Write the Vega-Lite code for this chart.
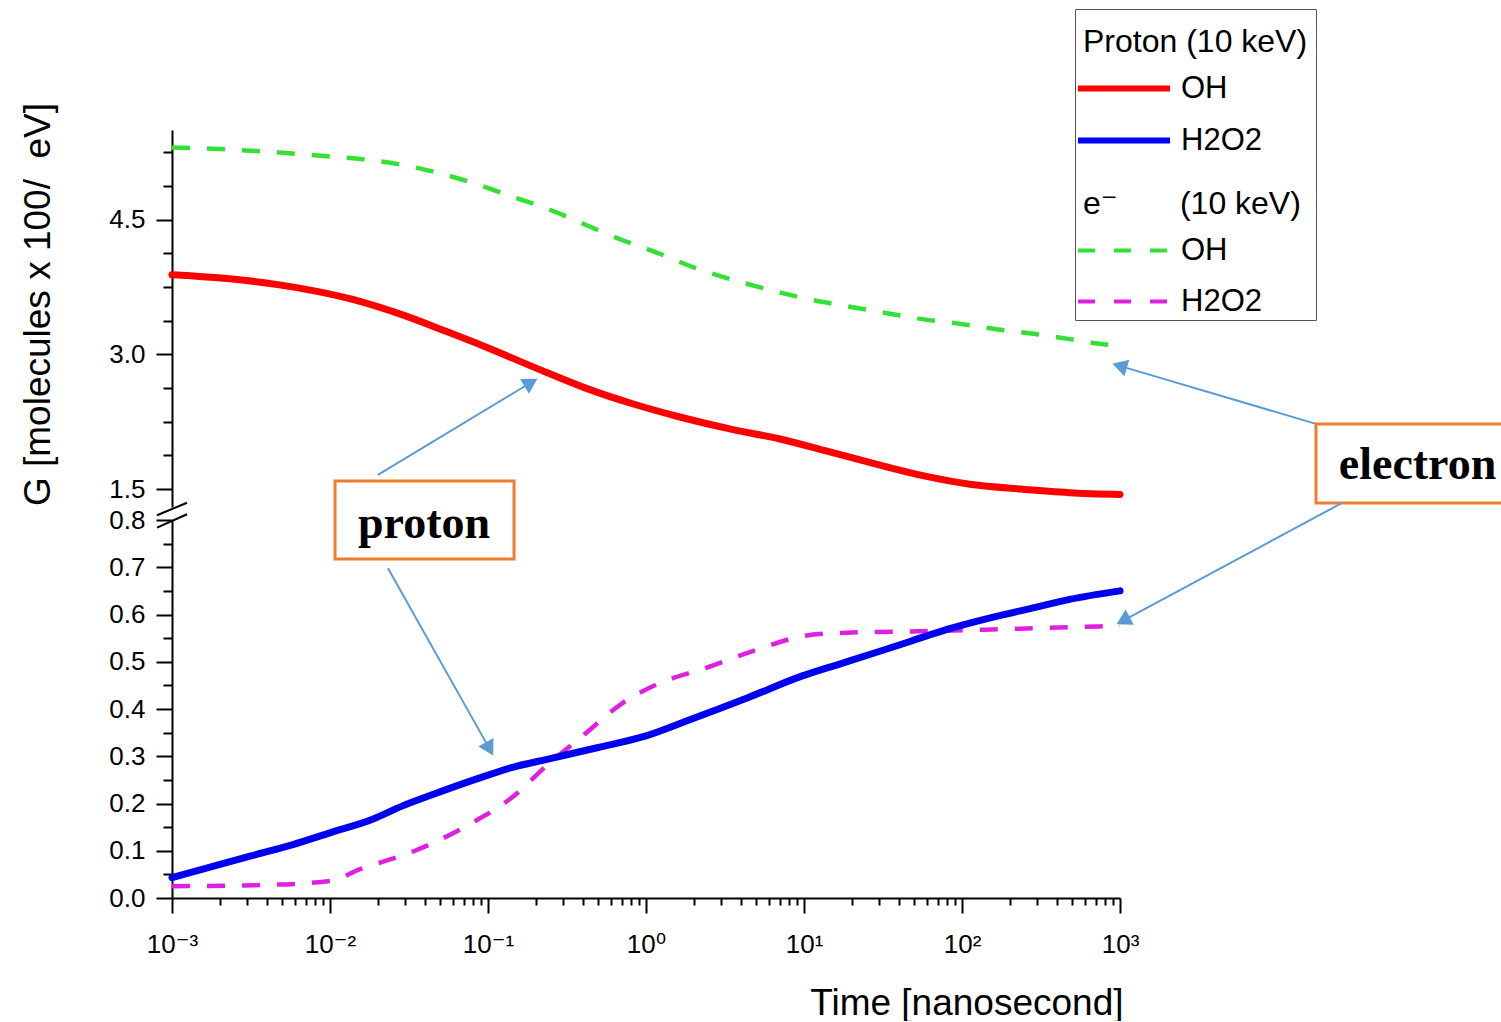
{
 "$schema": "https://vega.github.io/schema/vega-lite/v6.json",
 "padding": {"left": 18, "top": 8, "right": 0, "bottom": 0},
 "background": "white",
 "bounds": "flush",
 "spacing": 13,
 "datasets": {
  "g": [
   {"particle":"electron","species":"OH","t":0.001,"g":5.306},
   {"particle":"electron","species":"OH","t":0.00316,"g":5.27},
   {"particle":"electron","species":"OH","t":0.00912,"g":5.21},
   {"particle":"electron","species":"OH","t":0.017,"g":5.17},
   {"particle":"electron","species":"OH","t":0.0288,"g":5.11},
   {"particle":"electron","species":"OH","t":0.049,"g":5.02},
   {"particle":"electron","species":"OH","t":0.0832,"g":4.90},
   {"particle":"electron","species":"OH","t":0.141,"g":4.76},
   {"particle":"electron","species":"OH","t":0.24,"g":4.62},
   {"particle":"electron","species":"OH","t":0.407,"g":4.45},
   {"particle":"electron","species":"OH","t":0.692,"g":4.28},
   {"particle":"electron","species":"OH","t":1.17,"g":4.135},
   {"particle":"electron","species":"OH","t":2.0,"g":3.97},
   {"particle":"electron","species":"OH","t":3.39,"g":3.84},
   {"particle":"electron","species":"OH","t":5.75,"g":3.73},
   {"particle":"electron","species":"OH","t":9.77,"g":3.63},
   {"particle":"electron","species":"OH","t":18.2,"g":3.54},
   {"particle":"electron","species":"OH","t":30.9,"g":3.47},
   {"particle":"electron","species":"OH","t":57.5,"g":3.39},
   {"particle":"electron","species":"OH","t":97.7,"g":3.34},
   {"particle":"electron","species":"OH","t":166,"g":3.28},
   {"particle":"electron","species":"OH","t":282,"g":3.23},
   {"particle":"electron","species":"OH","t":479,"g":3.17},
   {"particle":"electron","species":"OH","t":813,"g":3.11},
   {"particle":"electron","species":"OH","t":1000,"g":3.095},
   {"particle":"proton","species":"OH","t":0.001,"g":3.887},
   {"particle":"proton","species":"OH","t":0.0024,"g":3.84},
   {"particle":"proton","species":"OH","t":0.00589,"g":3.75},
   {"particle":"proton","species":"OH","t":0.0141,"g":3.61},
   {"particle":"proton","species":"OH","t":0.0288,"g":3.44},
   {"particle":"proton","species":"OH","t":0.0537,"g":3.26},
   {"particle":"proton","species":"OH","t":0.0977,"g":3.08},
   {"particle":"proton","species":"OH","t":0.2,"g":2.85},
   {"particle":"proton","species":"OH","t":0.407,"g":2.63},
   {"particle":"proton","species":"OH","t":0.822,"g":2.45},
   {"particle":"proton","species":"OH","t":1.66,"g":2.30},
   {"particle":"proton","species":"OH","t":3.39,"g":2.17},
   {"particle":"proton","species":"OH","t":6.92,"g":2.06},
   {"particle":"proton","species":"OH","t":13.8,"g":1.925},
   {"particle":"proton","species":"OH","t":28.2,"g":1.78},
   {"particle":"proton","species":"OH","t":57.5,"g":1.646},
   {"particle":"proton","species":"OH","t":115,"g":1.55},
   {"particle":"proton","species":"OH","t":234,"g":1.50},
   {"particle":"proton","species":"OH","t":479,"g":1.46},
   {"particle":"proton","species":"OH","t":1000,"g":1.44},
   {"particle":"proton","species":"H2O2","t":0.001,"g":0.043},
   {"particle":"proton","species":"H2O2","t":0.00316,"g":0.089},
   {"particle":"proton","species":"H2O2","t":0.00589,"g":0.1135},
   {"particle":"proton","species":"H2O2","t":0.01,"g":0.138},
   {"particle":"proton","species":"H2O2","t":0.0186,"g":0.1665},
   {"particle":"proton","species":"H2O2","t":0.0288,"g":0.195},
   {"particle":"proton","species":"H2O2","t":0.0447,"g":0.219},
   {"particle":"proton","species":"H2O2","t":0.0832,"g":0.251},
   {"particle":"proton","species":"H2O2","t":0.141,"g":0.276},
   {"particle":"proton","species":"H2O2","t":0.24,"g":0.294},
   {"particle":"proton","species":"H2O2","t":0.49,"g":0.318},
   {"particle":"proton","species":"H2O2","t":1.0,"g":0.343},
   {"particle":"proton","species":"H2O2","t":1.82,"g":0.375},
   {"particle":"proton","species":"H2O2","t":2.82,"g":0.399},
   {"particle":"proton","species":"H2O2","t":4.41,"g":0.424},
   {"particle":"proton","species":"H2O2","t":9.77,"g":0.470},
   {"particle":"proton","species":"H2O2","t":16.6,"g":0.4946},
   {"particle":"proton","species":"H2O2","t":28.2,"g":0.519},
   {"particle":"proton","species":"H2O2","t":47.9,"g":0.544},
   {"particle":"proton","species":"H2O2","t":81.3,"g":0.569},
   {"particle":"proton","species":"H2O2","t":151,"g":0.593},
   {"particle":"proton","species":"H2O2","t":282,"g":0.614},
   {"particle":"proton","species":"H2O2","t":479,"g":0.632},
   {"particle":"proton","species":"H2O2","t":1000,"g":0.650},
   {"particle":"electron","species":"H2O2","t":0.001,"g":0.025},
   {"particle":"electron","species":"H2O2","t":0.0038,"g":0.0275},
   {"particle":"electron","species":"H2O2","t":0.01,"g":0.036},
   {"particle":"electron","species":"H2O2","t":0.0155,"g":0.061},
   {"particle":"electron","species":"H2O2","t":0.0339,"g":0.099},
   {"particle":"electron","species":"H2O2","t":0.0832,"g":0.163},
   {"particle":"electron","species":"H2O2","t":0.141,"g":0.212},
   {"particle":"electron","species":"H2O2","t":0.24,"g":0.283},
   {"particle":"electron","species":"H2O2","t":0.407,"g":0.346},
   {"particle":"electron","species":"H2O2","t":0.692,"g":0.41},
   {"particle":"electron","species":"H2O2","t":1.17,"g":0.452},
   {"particle":"electron","species":"H2O2","t":2.4,"g":0.487},
   {"particle":"electron","species":"H2O2","t":4.79,"g":0.523},
   {"particle":"electron","species":"H2O2","t":9.77,"g":0.554},
   {"particle":"electron","species":"H2O2","t":16.6,"g":0.561},
   {"particle":"electron","species":"H2O2","t":61.7,"g":0.565},
   {"particle":"electron","species":"H2O2","t":234,"g":0.570},
   {"particle":"electron","species":"H2O2","t":1000,"g":0.576}
  ]
 },
 "vconcat": [
  {
   "width": 948,
   "height": 377,
   "resolve": {"axis": {"y": "independent"}},
   "layer": [
    {
     "data": {"name": "g"},
     "transform": [{"filter": "datum.particle == 'electron' && datum.species == 'OH'"}],
     "mark": {"type": "line", "interpolate": "monotone", "strokeWidth": 4.5, "strokeDash": [18, 17]},
     "encoding": {
      "x": {"field": "t", "type": "quantitative", "scale": {"type": "log", "domain": [0.001, 1000], "nice": false}, "axis": null},
      "y": {"field": "g", "type": "quantitative", "scale": {"domain": [1.3, 5.5], "nice": false, "zero": false},
       "axis": {"orient": "left", "values": [1.5, 3, 4.5], "format": ".1f", "tickSize": 16, "labelPadding": 11, "labelFontSize": 26, "labelFlush": false, "labelOverlap": false,
        "title": "G [molecules x 100/\u00a0\u00a0eV]", "titleFontSize": 37, "titleX": -134, "titleY": 174, "titleAngle": -90, "titleAlign": "center", "titleBaseline": "middle"}},
      "stroke": {"field": "species", "type": "nominal",
       "scale": {"domain": ["OH", "H2O2"], "range": ["#33e033", "#e020e0"]},
       "legend": {"orient": "none", "legendX": 903, "legendY": 51,
        "title": "\u00a0e\u207b\u00a0\u00a0\u00a0\u00a0\u00a0\u00a0\u00a0(10 keV)", "titleFontSize": 32, "titleFont": "Liberation Sans, DejaVu Sans", "titleFontWeight": "normal", "titleColor": "black", "titlePadding": 14, "titleLimit": 1000,
        "labelFontSize": 31, "labelFont": "Liberation Sans", "labelColor": "black", "labelOffset": 67, "labelLimit": 0,
        "symbolType": "M-1.78,0H6.22", "symbolSize": 529, "symbolStrokeWidth": 4, "symbolDash": [17, 19],
        "rowPadding": 19, "padding": 8}}
     }
    },
    {
     "data": {"name": "g"},
     "transform": [{"filter": "datum.particle == 'proton' && datum.species == 'OH'"}],
     "mark": {"type": "line", "interpolate": "monotone", "strokeWidth": 7, "strokeCap": "round"},
     "encoding": {
      "x": {"field": "t", "type": "quantitative", "axis": null},
      "y": {"field": "g", "type": "quantitative",
       "axis": {"orient": "left", "values": [1.875, 2.25, 2.625, 3.375, 3.75, 4.125, 4.875, 5.25], "tickSize": 9, "labels": false, "domain": false, "title": null}},
      "color": {"field": "species", "type": "nominal",
       "scale": {"domain": ["OH", "H2O2", "b1", "b2", "b3"], "range": ["#ff0000", "#0000f0", "transparent", "transparent", "transparent"]},
       "legend": {"orient": "none", "legendX": 903, "legendY": -121,
        "title": ["\u00a0", "Proton (10 keV)"], "titleLineHeight": 10, "titleFontSize": 32, "titleFont": "Liberation Sans", "titleFontWeight": "normal", "titleColor": "black", "titlePadding": 14, "titleLimit": 1000,
        "labelFontSize": 31, "labelFont": "Liberation Sans", "labelColor": "black", "labelOffset": 67, "labelLimit": 0,
        "labelExpr": "indexof(['OH','H2O2'], datum.label) >= 0 ? datum.label : '\u00a0'",
        "symbolType": "M-1.78,0H6.22", "symbolSize": 529, "symbolStrokeWidth": 6,
        "rowPadding": 20, "padding": 8, "strokeColor": "#555555"}}
     }
    },
    {
     "data": {"values": [{}]},
     "mark": {"type": "rule", "color": "#5b9bd5", "strokeWidth": 2},
     "encoding": {
      "x": {"datum": 0.0201, "type": "quantitative", "axis": null}, "x2": {"datum": 0.187},
      "y": {"datum": 1.657, "type": "quantitative", "axis": null}, "y2": {"datum": 2.687}
     }
    },
    {
     "data": {"values": [{}]},
     "mark": {"type": "point", "shape": "triangle-up", "filled": true, "size": 300, "color": "#5b9bd5", "opacity": 1, "angle": 59},
     "encoding": {
      "x": {"datum": 0.187, "type": "quantitative", "axis": null},
      "y": {"datum": 2.687, "type": "quantitative", "axis": null}
     }
    },
    {
     "data": {"values": [{}]},
     "mark": {"type": "rule", "color": "#5b9bd5", "strokeWidth": 2},
     "encoding": {
      "x": {"datum": 17400, "type": "quantitative", "axis": null}, "x2": {"datum": 995},
      "y": {"datum": 2.226, "type": "quantitative", "axis": null}, "y2": {"datum": 2.872}
     }
    },
    {
     "data": {"values": [{}]},
     "mark": {"type": "point", "shape": "triangle-up", "filled": true, "size": 300, "color": "#5b9bd5", "opacity": 1, "angle": 286.5},
     "encoding": {
      "x": {"datum": 995, "type": "quantitative", "axis": null},
      "y": {"datum": 2.872, "type": "quantitative", "axis": null}
     }
    },
    {
     "data": {"values": [{}]},
     "mark": {"type": "rect", "fill": "white", "stroke": "#ed7d31", "strokeWidth": 3},
     "encoding": {
      "x": {"datum": 17400, "type": "quantitative", "axis": null}, "x2": {"datum": 270000},
      "y": {"datum": 1.345, "type": "quantitative", "axis": null}, "y2": {"datum": 2.226}
     }
    },
    {
     "data": {"values": [{}]},
     "mark": {"type": "text", "text": "electron", "font": "Liberation Serif", "fontWeight": "bold", "fontSize": 46, "align": "center", "baseline": "alphabetic", "fill": "black"},
     "encoding": {
      "x": {"datum": 76400, "type": "quantitative", "axis": null},
      "y": {"datum": 1.613, "type": "quantitative", "axis": null}
     }
    }
   ]
  },
  {
   "width": 948,
   "height": 378,
   "resolve": {"axis": {"y": "independent", "x": "independent"}},
   "layer": [
    {
     "data": {"name": "g"},
     "transform": [{"filter": "datum.particle == 'electron' && datum.species == 'H2O2'"}],
     "mark": {"type": "line", "interpolate": "monotone", "strokeWidth": 4.5, "strokeDash": [18, 17]},
     "encoding": {
      "x": {"field": "t", "type": "quantitative", "scale": {"type": "log", "domain": [0.001, 1000], "nice": false},
       "axis": {"orient": "bottom", "values": [0.002,0.003,0.004,0.005,0.006,0.007,0.008,0.009,0.02,0.03,0.04,0.05,0.06,0.07,0.08,0.09,0.2,0.3,0.4,0.5,0.6,0.7,0.8,0.9,2,3,4,5,6,7,8,9,20,30,40,50,60,70,80,90,200,300,400,500,600,700,800,900], "tickSize": 7, "labels": false, "domain": false, "title": null}},
      "y": {"field": "g", "type": "quantitative", "scale": {"domain": [0, 0.8], "nice": false, "zero": false},
       "axis": {"orient": "left", "values": [0.05,0.15,0.25,0.35,0.45,0.55,0.65,0.75], "tickSize": 9, "labels": false, "domain": false, "title": null}},
      "stroke": {"field": "species", "type": "nominal", "scale": {"domain": ["OH", "H2O2"], "range": ["#33e033", "#e020e0"]}}
     }
    },
    {
     "data": {"name": "g"},
     "transform": [{"filter": "datum.particle == 'proton' && datum.species == 'H2O2'"}],
     "mark": {"type": "line", "interpolate": "monotone", "strokeWidth": 7, "strokeCap": "round"},
     "encoding": {
      "x": {"field": "t", "type": "quantitative",
       "axis": {"orient": "bottom", "values": [0.001, 0.01, 0.1, 1, 10, 100, 1000],
        "labelExpr": "['10\u207b\u00b3','10\u207b\u00b2','10\u207b\u00b9','10\u2070','10\u00b9','10\u00b2','10\u00b3'][round(log(datum.value)/LN10)+3]",
        "tickSize": 15, "labelPadding": 18, "labelFontSize": 26, "labelFont": "Liberation Sans, DejaVu Sans", "labelFlush": false, "labelOverlap": false,
        "title": "Time [nanosecond]", "titleFontSize": 37, "titleX": 951, "titleY": 105, "titleAlign": "right", "titleBaseline": "middle"}},
      "y": {"field": "g", "type": "quantitative",
       "axis": {"orient": "left", "values": [0, 0.1, 0.2, 0.3, 0.4, 0.5, 0.6, 0.7, 0.8], "format": ".1f", "tickSize": 16, "labelPadding": 11, "labelFontSize": 26, "labelFlush": false, "labelOverlap": false, "title": null}},
      "color": {"field": "species", "type": "nominal",
       "scale": {"domain": ["OH", "H2O2", "b1", "b2", "b3"], "range": ["#ff0000", "#0000f0", "transparent", "transparent", "transparent"]}}
     }
    },
    {
     "data": {"values": [{}]},
     "mark": {"type": "rule", "color": "black", "strokeWidth": 2},
     "encoding": {
      "x": {"datum": 0.000804, "type": "quantitative", "axis": null}, "x2": {"datum": 0.001245},
      "y": {"datum": 0.810, "type": "quantitative", "axis": null}, "y2": {"datum": 0.8366}
     }
    },
    {
     "data": {"values": [{}]},
     "mark": {"type": "rule", "color": "black", "strokeWidth": 2},
     "encoding": {
      "x": {"datum": 0.000804, "type": "quantitative", "axis": null}, "x2": {"datum": 0.001245},
      "y": {"datum": 0.7838, "type": "quantitative", "axis": null}, "y2": {"datum": 0.8122}
     }
    },
    {
     "data": {"values": [{}]},
     "mark": {"type": "rule", "color": "#5b9bd5", "strokeWidth": 2},
     "encoding": {
      "x": {"datum": 0.02328, "type": "quantitative", "axis": null}, "x2": {"datum": 0.1023},
      "y": {"datum": 0.698, "type": "quantitative", "axis": null}, "y2": {"datum": 0.3156}
     }
    },
    {
     "data": {"values": [{}]},
     "mark": {"type": "point", "shape": "triangle-up", "filled": true, "size": 300, "color": "#5b9bd5", "opacity": 1, "angle": 150.7},
     "encoding": {
      "x": {"datum": 0.1023, "type": "quantitative", "axis": null},
      "y": {"datum": 0.3156, "type": "quantitative", "axis": null}
     }
    },
    {
     "data": {"values": [{}]},
     "mark": {"type": "rule", "color": "#5b9bd5", "strokeWidth": 2},
     "encoding": {
      "x": {"datum": 25400, "type": "quantitative", "axis": null}, "x2": {"datum": 1047},
      "y": {"datum": 0.836, "type": "quantitative", "axis": null}, "y2": {"datum": 0.5869}
     }
    },
    {
     "data": {"values": [{}]},
     "mark": {"type": "point", "shape": "triangle-up", "filled": true, "size": 300, "color": "#5b9bd5", "opacity": 1, "angle": 241.7},
     "encoding": {
      "x": {"datum": 1047, "type": "quantitative", "axis": null},
      "y": {"datum": 0.5869, "type": "quantitative", "axis": null}
     }
    },
    {
     "data": {"values": [{}]},
     "mark": {"type": "rect", "fill": "white", "stroke": "#ed7d31", "strokeWidth": 3},
     "encoding": {
      "x": {"datum": 0.01076, "type": "quantitative", "axis": null}, "x2": {"datum": 0.1461},
      "y": {"datum": 0.8825, "type": "quantitative", "axis": null}, "y2": {"datum": 0.7175}
     }
    },
    {
     "data": {"values": [{}]},
     "mark": {"type": "text", "text": "proton", "font": "Liberation Serif", "fontWeight": "bold", "fontSize": 46, "align": "center", "baseline": "alphabetic", "fill": "black"},
     "encoding": {
      "x": {"datum": 0.03936, "type": "quantitative", "axis": null},
      "y": {"datum": 0.762, "type": "quantitative", "axis": null}
     }
    }
   ]
  }
 ],
 "config": {
  "view": {"stroke": null},
  "font": "Liberation Sans",
  "axis": {"grid": false, "domainColor": "black", "domainWidth": 2, "tickColor": "black", "tickWidth": 2, "labelColor": "black", "titleColor": "black", "labelFont": "Liberation Sans", "titleFont": "Liberation Sans", "titleFontWeight": "normal"}
 }
}
